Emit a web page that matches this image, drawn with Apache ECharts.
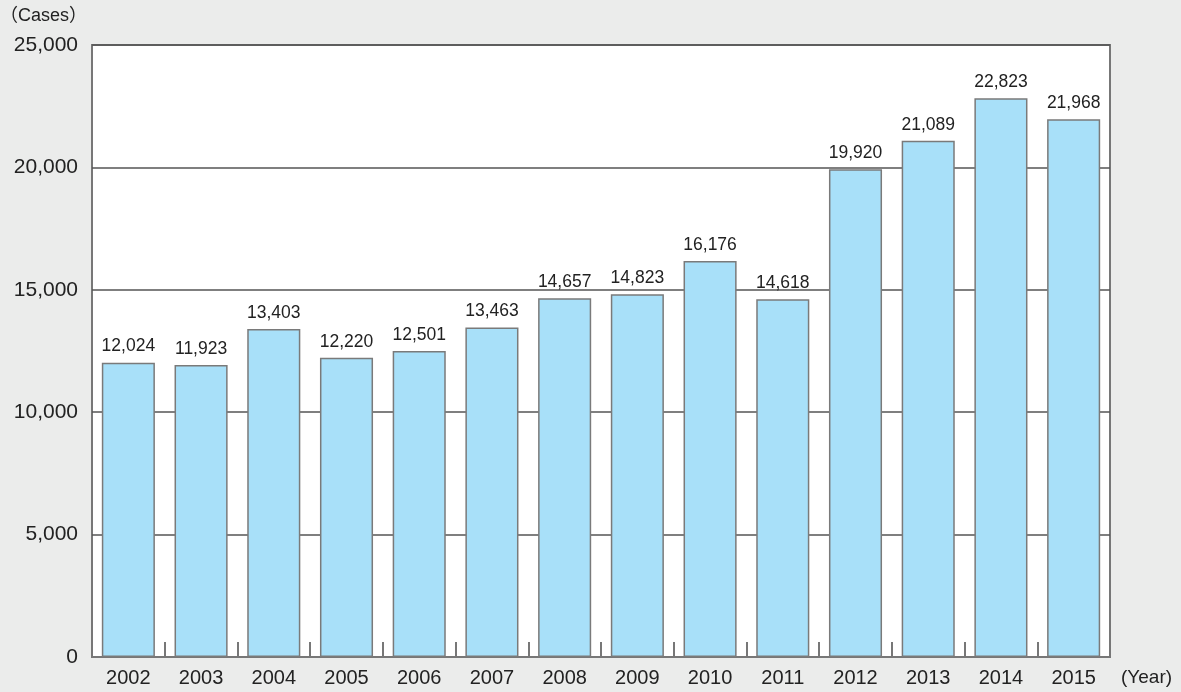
<!DOCTYPE html>
<html><head><meta charset="utf-8">
<script src="https://cdn.jsdelivr.net/npm/echarts@6/dist/echarts.min.js"></script>
<style>html,body{margin:0;padding:0;background:#ebeceb;}#c{width:1181px;height:692px;}</style>
</head><body><div id="c"></div>
<script>
const years = ['2002','2003','2004','2005','2006','2007','2008','2009','2010','2011','2012','2013','2014','2015'];
const cases = [12024,11923,13403,12220,12501,13463,14657,14823,16176,14618,19920,21089,22823,21968];
const yTicks = [0,5000,10000,15000,20000,25000];
const chart = echarts.init(document.getElementById('c'));
const fmt = v => v.toLocaleString('en-US');
chart.setOption({
  backgroundColor:'#ebeceb',
  textStyle:{fontFamily:'Liberation Sans, Arial, sans-serif'},
  grid:{left:92,right:71,top:45,bottom:35,show:true,backgroundColor:'#ffffff',borderColor:'#777777',borderWidth:2},
  graphic:[
    {type:'text',left:0,top:7,style:{text:'（Cases）',fontSize:18,fill:'#222',fontFamily:'Liberation Sans, Noto Sans CJK JP, sans-serif'}},
    {type:'text',left:1121,top:668,style:{text:'(Year)',fontSize:19,fill:'#222',fontFamily:'Liberation Sans, Arial, sans-serif'}}
  ],
  xAxis:{type:'category',data:years,
    axisLine:{show:true,lineStyle:{color:'#777777',width:2}},
    axisTick:{show:true,inside:true,length:15,lineStyle:{color:'#777777',width:2}},
    axisLabel:{color:'#222',fontSize:20,margin:11}},
  yAxis:{type:'value',min:yTicks[0],max:yTicks[yTicks.length-1],interval:5000,
    axisLine:{show:false},axisTick:{show:false},
    splitLine:{show:true,lineStyle:{color:'#555555',width:1.5}},
    axisLabel:{color:'#222',fontSize:21,margin:14,formatter:v=>fmt(v)}},
  series:[{type:'bar',data:cases,barWidth:'73%',
    itemStyle:{color:'#a8e0f9',borderColor:'#7a7a7a',borderWidth:1.5},
    label:{show:true,position:'top',distance:7,color:'#222',fontSize:17.5,formatter:p=>fmt(p.value)}}]
});
</script></body></html>
